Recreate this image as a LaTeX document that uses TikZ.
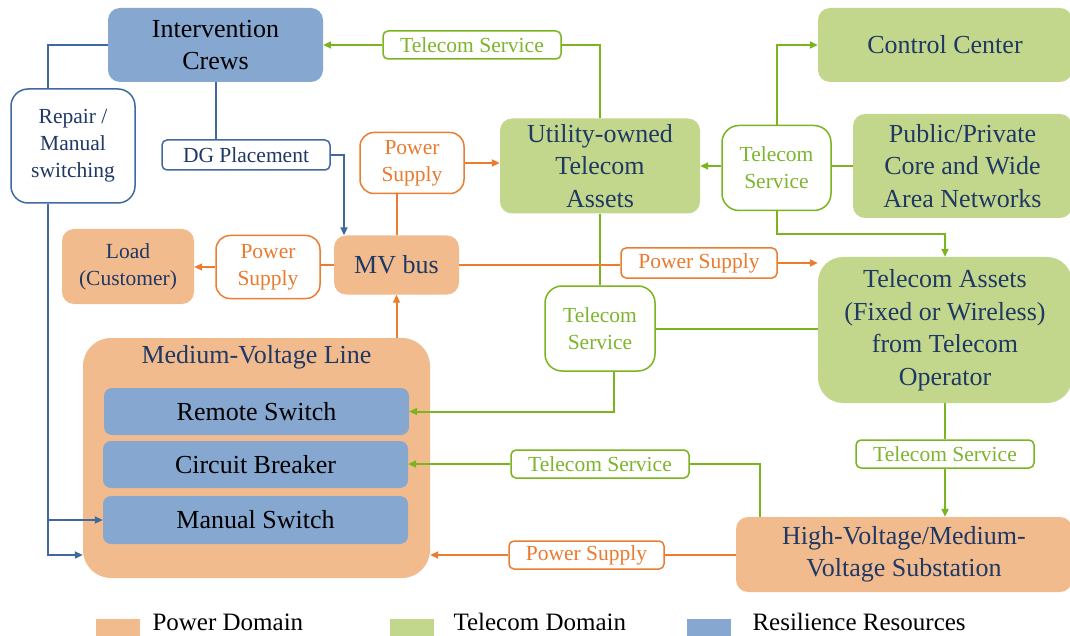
\documentclass[tikz,border=0pt]{standalone}
\usepackage{fontspec}
\setmainfont{Liberation Serif}
\usetikzlibrary{arrows.meta}
\definecolor{PowFill}{RGB}{241,187,141}
\definecolor{TelFill}{RGB}{194,215,139}
\definecolor{ResFill}{RGB}{134,167,208}
\definecolor{PowLine}{RGB}{234,125,48}
\definecolor{TelLine}{RGB}{122,180,30}
\definecolor{ResLine}{RGB}{65,105,160}
\definecolor{PowText}{RGB}{233,122,46}
\definecolor{TelText}{RGB}{125,181,45}
\definecolor{Navy}{RGB}{31,56,100}
\begin{document}
\begin{tikzpicture}[x=1pt, y=-1pt, >={Triangle[length=8pt, width=7pt]}]
        \tikzset{Box/.style={shape=rectangle, rounded corners=12, align=center, inner sep=0pt, text=Navy, font=\fontsize{26}{32.5}\selectfont}}
        \tikzset{Pow/.style={Box, fill=PowFill}}
        \tikzset{Tel/.style={Box, fill=TelFill}}
        \tikzset{Res/.style={Box, fill=ResFill, text=black}}
        \tikzset{Lbl/.style={shape=rectangle, draw, fill=white, line width=1.5, rounded corners=5, align=center, inner sep=0pt, font=\fontsize{21.5}{27}\selectfont}}
        \tikzset{TelLbl/.style={Lbl, draw=TelLine, text=TelText}}
        \tikzset{PowLbl/.style={Lbl, draw=PowLine, text=PowText}}
        \tikzset{ResLbl/.style={Lbl, draw=ResLine, text=Navy}}
        \tikzset{telw/.style={draw=TelLine, line width=2}}
        \tikzset{poww/.style={draw=PowLine, line width=2}}
        \tikzset{resw/.style={draw=ResLine, line width=2}}
        \tikzset{Leg/.style={shape=rectangle, minimum width=44, minimum height=17, inner sep=0pt}}
        \useasboundingbox (0,0) rectangle (1070,636);

        % nodes
        \node[Res, text=black, minimum width=215, minimum height=74] (crews) at (215.5,45) {Intervention\\Crews};
        \node[Tel, minimum width=254, minimum height=74] (ctrl) at (945,45) {Control Center};
        \node[ResLbl, rounded corners=17, minimum width=124, minimum height=114] (repair) at (73,146) {Repair /\\Manual\\switching};
        \node[ResLbl, minimum width=168, minimum height=30] (dg) at (246,155) {DG Placement};
        \node[PowLbl, rounded corners=14, minimum width=104, minimum height=61] (psup1) at (412,163) {Power\\Supply};
        \node[Tel, minimum width=200, minimum height=95] (util) at (600,166) {Utility-owned\\Telecom\\Assets};
        \node[TelLbl, rounded corners=17, minimum width=109, minimum height=85] (ts2) at (776.5,168) {Telecom\\Service};
        \node[Tel, minimum width=219, minimum height=104] (pub) at (962.5,166) {Public/Private\\Core and Wide\\Area Networks};

        \node[Pow, font=\fontsize{21.5}{27}\selectfont, minimum width=132, minimum height=75] (load) at (128,266.5) {Load\\(Customer)};
        \node[PowLbl, rounded corners=14, minimum width=104, minimum height=63] (psup2) at (268,267) {Power\\Supply};
        \node[Pow, minimum width=125, minimum height=59] (mvbus) at (396.5,265) {MV bus};
        \node[PowLbl, minimum width=156, minimum height=30] (psup3) at (699,263) {Power Supply};
        \node[Tel, rounded corners=25, minimum width=254, minimum height=146] (tsa) at (945,330) {Telecom Assets\\(Fixed or Wireless)\\from Telecom\\Operator};
        \node[TelLbl, rounded corners=17, minimum width=110, minimum height=85] (ts3) at (600,328.5) {Telecom\\Service};

        \node[Pow, rounded corners=28, minimum width=347, minimum height=240] (mvl) at (256.5,458) {};
        \node[text=Navy, font=\fontsize{26}{32}\selectfont] (mvltxt) at (256.5,357) {Medium-Voltage Line};
        \node[Res, rounded corners=8, minimum width=305, minimum height=47] (remote) at (256.5,411.5) {Remote Switch};
        \node[Res, rounded corners=8, minimum width=305, minimum height=47] (cb) at (255.5,464.5) {Circuit Breaker};
        \node[Res, rounded corners=8, minimum width=305, minimum height=48] (manual) at (255.5,520) {Manual Switch};

        \node[TelLbl, minimum width=178, minimum height=28] (ts1) at (472,45) {Telecom Service};
        \node[TelLbl, minimum width=178, minimum height=28] (ts4) at (600,464) {Telecom Service};
        \node[TelLbl, minimum width=178, minimum height=28] (ts5) at (945,454) {Telecom Service};
        \node[PowLbl, minimum width=155, minimum height=28] (psup4) at (586.5,555) {Power Supply};
        \node[Pow, minimum width=336, minimum height=75] (hvs) at (904,554.5) {High-Voltage/Medium-\\Voltage Substation};

        % legend
        \node[Leg, fill=PowFill] (legpow) at (118,627) {};
        \node[anchor=base west, font=\fontsize{25}{30}\selectfont] (legpowtxt) at (149,630) {Power Domain};
        \node[Leg, fill=TelFill] (legtel) at (411.5,627) {};
        \node[anchor=base west, font=\fontsize{25}{30}\selectfont] (legteltxt) at (450,630) {Telecom Domain};
        \node[Leg, fill=ResFill] (legres) at (708.5,627) {};
        \node[anchor=base west, font=\fontsize{25}{30}\selectfont] (legrestxt) at (749,630) {Resilience Resources};

        % arrows
        \coordinate (rbus) at ([xshift=-25.5]repair.south);
        \draw[telw] (util.north) |- (ts1.east);
        \draw[telw, ->] (ts1.west) -- (crews.east);
        \draw[telw, ->] (ts2.north) |- (ctrl.west);
        \draw[telw] (pub.west) -- (pub.west -| ts2.east);
        \draw[telw, ->] (ts2.west |- pub.west) -- (util.east |- pub.west);
        \draw[telw, ->] (ts2.south) -- ++(0,23) -| (tsa.north);
        \draw[telw] (util.south) -- (ts3.north);
        \draw[telw] (ts3.east) -- (tsa.west |- ts3.east);
        \draw[telw, ->] ([xshift=14]ts3.south) |- (remote.east);
        \draw[telw] (tsa.south) -- (ts5.north);
        \draw[telw, ->] (ts5.south) -- (ts5.south |- hvs.north);
        \draw[telw] ([xshift=-144]hvs.north) |- (ts4.east);
        \draw[telw, ->] (ts4.west) -- (cb.east |- ts4.west);

        \draw[poww] (hvs.west |- psup4.east) -- (psup4.east);
        \draw[poww, ->] (psup4.west) -- (mvl.east |- psup4.west);
        \draw[poww, ->] (mvl.north -| mvbus.south) -- (mvbus.south);
        \draw[poww] (mvbus.north) -- (mvbus.north |- psup1.south);
        \draw[poww, ->] (psup1.east) -- (util.west |- psup1.east);
        \draw[poww] (mvbus.west) -- (mvbus.west -| psup2.east);
        \draw[poww, ->] (psup2.west) -- (load.east |- psup2.west);
        \draw[poww] (mvbus.east) -- (mvbus.east -| psup3.west);
        \draw[poww, ->] (psup3.east) -- (tsa.west |- psup3.east);

        \draw[resw] (crews.west) -| ([xshift=-25.5]repair.north);
        \draw[resw, ->] (rbus) |- ([yshift=-97]mvl.west);
        \draw[resw, ->] (rbus |- manual.west) -- (manual.west);
        \draw[resw] (crews.south) -- (crews.south |- dg.north);
        \draw[resw, ->] (dg.east) -| ([xshift=-52.5]mvbus.north);
    \end{tikzpicture}
\end{document}
